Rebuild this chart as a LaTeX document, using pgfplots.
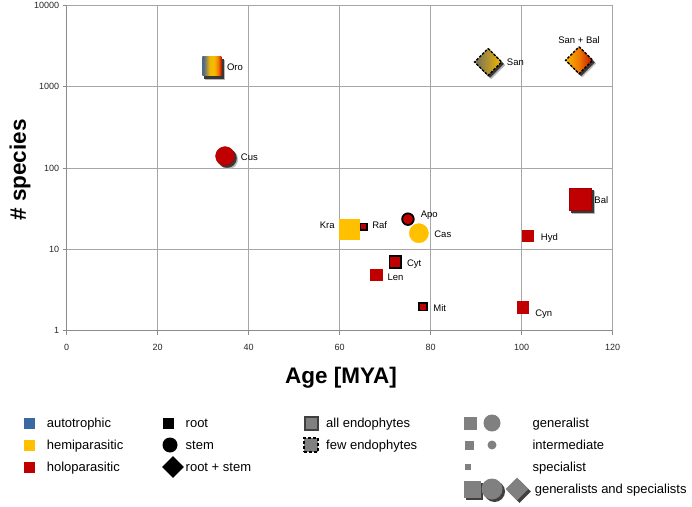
\documentclass[border=0pt]{standalone}
\usepackage{fontspec}
\setmainfont{Liberation Sans}
\usepackage{pgfplots}
\pgfplotsset{compat=1.18}
\usetikzlibrary{shapes.geometric}

\definecolor{hred}{RGB}{192,0,0}
\definecolor{hyel}{RGB}{255,192,0}
\definecolor{hblue}{RGB}{58,104,160}
\definecolor{lgray}{RGB}{128,128,128}
\definecolor{slate}{RGB}{78,104,140}
\definecolor{olivegray}{RGB}{110,110,95}
\definecolor{gold}{RGB}{245,185,0}
\definecolor{orng}{RGB}{240,120,0}
\definecolor{dred}{RGB}{190,20,0}

\pgfdeclarehorizontalshading{oroshade}{100bp}{color(0bp)=(slate); color(28bp)=(slate); color(45bp)=(gold); color(57bp)=(gold); color(67bp)=(orng); color(75bp)=(dred); color(100bp)=(dred)}
\pgfdeclarehorizontalshading{sanshade}{100bp}{color(0bp)=(olivegray); color(25bp)=(olivegray); color(75bp)=(gold); color(100bp)=(gold)}
\pgfdeclarehorizontalshading{sbshade}{100bp}{color(0bp)=(gold); color(25bp)=(gold); color(50bp)=(orng); color(75bp)=(dred); color(100bp)=(dred)}

\pgfdeclareplotmark{orosq}{%
  \pgfpathrectangle{\pgfqpoint{-\pgfplotmarksize}{-\pgfplotmarksize}}{\pgfqpoint{2\pgfplotmarksize}{2\pgfplotmarksize}}%
  \pgfshadepath{oroshade}{0}%
  \pgfusepath{}%
}
\newcommand{\diapath}{%
  \pgfpathmoveto{\pgfqpoint{0pt}{\pgfplotmarksize}}%
  \pgfpathlineto{\pgfqpoint{\pgfplotmarksize}{0pt}}%
  \pgfpathlineto{\pgfqpoint{0pt}{-\pgfplotmarksize}}%
  \pgfpathlineto{\pgfqpoint{-\pgfplotmarksize}{0pt}}%
  \pgfpathclose}
\pgfdeclareplotmark{rdia*}{\diapath\pgfusepathqfillstroke}
\pgfdeclareplotmark{sandia}{\diapath\pgfshadepath{sanshade}{0}\pgfusepath{}\diapath\pgfusepath{stroke}}
\pgfdeclareplotmark{sbdia}{\diapath\pgfshadepath{sbshade}{0}\pgfusepath{}\diapath\pgfusepath{stroke}}

\pgfplotsset{
  shA/.style={only marks, mark options={draw=black!28, fill=black!28, line width=0.5pt, xshift=3.2pt, yshift=-3.2pt}},
  shB/.style={only marks, mark options={draw=black!78, fill=black!78, line width=0.3pt, xshift=2pt, yshift=-2pt}},
}
\newcommand{\shadowpt}[3]{%
  \addplot[shA, mark=#1, mark size=#2] coordinates {#3};
  \addplot[shB, mark=#1, mark size=#2] coordinates {#3};
}
\newcommand{\labfont}{\fontsize{9.5}{11}\selectfont}
\newcommand{\legfont}{\fontsize{13}{15}\selectfont}
\tikzset{
  lab/.style={inner sep=0pt, font=\labfont, text height=6.9pt, text depth=0pt, anchor=west},
  leg/.style={inner sep=0pt, font=\legfont, text height=9.4pt, text depth=0pt, anchor=west},
  sq/.style={rectangle, inner sep=0pt, draw=none},
  ci/.style={circle, inner sep=0pt, draw=none},
  di/.style={diamond, aspect=1, inner sep=0pt, draw=none},
}

\begin{document}
\begin{tikzpicture}
\useasboundingbox (0pt,0pt) rectangle (692pt,506pt);
\begin{axis}[
  at={(66.7pt,175.3pt)}, anchor=south west, scale only axis,
  width=546pt, height=325.4pt,
  xmin=0, xmax=120, ymin=1, ymax=10000, ymode=log,
  xtick={0,20,...,120}, ytick={1,10,100,1000,10000},
  yticklabels={1,10,100,1000,10000},
  yminorticks=false,
  axis x line*=bottom, axis y line*=left,
  axis line style={draw=black!45, line width=0.7pt},
  grid=major, major grid style={draw=black!35, line width=0.7pt},
  tick align=outside, major tick length=4pt,
  tick style={black!45, line width=0.6pt},
  ticklabel style={font=\fontsize{9}{10}\selectfont, text=black!85},
  xticklabel style={yshift=-6pt},
  /pgf/number format/assume math mode=true,
  clip=false,
]
% shadows
\shadowpt{square*}{9.5}{(31.9,1780)}
\shadowpt{*}{9.5}{(34.8,140)}
\shadowpt{rdia*}{13.5}{(92.6,2010)}
\shadowpt{rdia*}{13.5}{(112.6,2110)}
\shadowpt{square*}{11}{(112.8,41.4)}
% Oro
\addplot[only marks, mark=orosq, mark size=9.5] coordinates {(31.9,1780)};
% Cus
\addplot[only marks, mark=*, mark size=9.5, mark options={fill=hred, draw=hred!85!black, line width=0.4pt}] coordinates {(34.8,140)};
% San, San + Bal
\addplot[only marks, mark=sandia, mark size=13.5, mark options={draw=black, line width=1.4pt, dash pattern=on 2.5pt off 1.5pt}] coordinates {(92.6,2010)};
\addplot[only marks, mark=sbdia, mark size=13.5, mark options={draw=black, line width=1.4pt, dash pattern=on 2.5pt off 1.5pt}] coordinates {(112.6,2110)};
% Bal
\addplot[only marks, mark=square*, mark size=11, mark options={fill=hred, draw=hred!85!black, line width=0.4pt}] coordinates {(112.8,41.4)};
% Kra, Cas
\addplot[only marks, mark=square*, mark size=10, mark options={fill=hyel, draw=hyel}] coordinates {(62.0,17.7)};
\addplot[only marks, mark=*, mark size=9.6, mark options={fill=hyel, draw=hyel}] coordinates {(77.4,15.8)};
% Hyd, Len, Cyn
\addplot[only marks, mark=square*, mark size=5.6, mark options={fill=hred, draw=hred, line width=0.4pt}] coordinates {(101.4,14.6) (68.0,4.86) (100.3,1.94)};
% Raf, Mit, Cyt
\addplot[only marks, mark=square*, mark size=3.4, mark options={fill=hred, draw=black, line width=1.6pt}] coordinates {(65.3,18.9)};
\addplot[only marks, mark=square*, mark size=3.8, mark options={fill=hred, draw=black, line width=1.6pt}] coordinates {(78.3,1.97)};
\addplot[only marks, mark=square*, mark size=5.8, mark options={fill=hred, draw=black, line width=1.8pt}] coordinates {(72.2,6.97)};
% Apo
\addplot[only marks, mark=*, mark size=5.8, mark options={fill=hred, draw=black, line width=1.8pt}] coordinates {(75.0,23.5)};
% labels
\node[lab, xshift=15pt, yshift=-0.7pt] at (axis cs:31.9,1780) {Oro};
\node[lab, xshift=15.7pt, yshift=-0.7pt] at (axis cs:34.8,140) {Cus};
\node[lab, xshift=18.7pt] at (axis cs:92.6,2010) {San};
\node[lab, anchor=center, yshift=20pt] at (axis cs:112.6,2110) {San + Bal};
\node[lab, anchor=east, xshift=-14pt, yshift=4pt] at (axis cs:62.0,17.7) {Kra};
\node[lab, xshift=8.3pt, yshift=1.7pt] at (axis cs:65.3,18.9) {Raf};
\node[lab, xshift=12.7pt, yshift=4.7pt] at (axis cs:75.0,23.5) {Apo};
\node[lab, xshift=15.3pt, yshift=-1.3pt] at (axis cs:77.4,15.8) {Cas};
\node[lab, xshift=12.7pt, yshift=-1pt] at (axis cs:101.4,14.6) {Hyd};
\node[lab, xshift=11.7pt, yshift=-1.3pt] at (axis cs:72.2,6.97) {Cyt};
\node[lab, xshift=11.3pt, yshift=-2pt] at (axis cs:68.0,4.86) {Len};
\node[lab, xshift=10.3pt, yshift=-1pt] at (axis cs:78.3,1.97) {Mit};
\node[lab, xshift=12pt, yshift=-5.7pt] at (axis cs:100.3,1.94) {Cyn};
\node[lab, xshift=14.3pt, yshift=-1pt] at (axis cs:112.8,41.4) {Bal};
\end{axis}

\begin{scope}[x=1pt, y=-1pt, shift={(0pt,506pt)}]
\node[font=\fontsize{22.5}{26}\bfseries, rotate=90] at (20,170) {\# species};
\node[font=\fontsize{22.5}{26}\bfseries] at (341,378) {Age [MYA]};
% legend column 1
\node[sq, fill=hblue, minimum size=11pt] at (29,423) {};
\node[sq, fill=hyel, minimum size=11pt] at (29,445) {};
\node[sq, fill=hred, minimum size=11pt] at (29,467) {};
\node[leg] at (46.6,423) {autotrophic};
\node[leg] at (46.6,445) {hemiparasitic};
\node[leg] at (46.6,467) {holoparasitic};
% column 2
\node[sq, fill=black, minimum size=11pt] at (168,423) {};
\node[ci, fill=black, minimum size=15pt] at (170,445) {};
\node[di, fill=black, minimum size=22pt] at (173,467) {};
\node[leg] at (185.5,423) {root};
\node[leg] at (185.5,445) {stem};
\node[leg] at (185.5,467) {root + stem};
% column 3
\node[sq, fill=lgray, draw=black!75, line width=2pt, minimum size=13pt] at (311,423) {};
\node[sq, fill=lgray, draw=black, line width=1.6pt, dash pattern=on 3pt off 2pt, minimum size=14pt] at (311,445) {};
\node[leg] at (326,423) {all endophytes};
\node[leg] at (326,445) {few endophytes};
% column 4
\node[sq, fill=lgray, minimum size=13pt] at (470,423) {};
\node[ci, fill=lgray, minimum size=17pt] at (492,423) {};
\node[sq, fill=lgray, minimum size=9pt] at (469.5,445) {};
\node[ci, fill=lgray, minimum size=9pt] at (492,445) {};
\node[sq, fill=lgray, minimum size=6pt] at (468,467) {};
\node[sq, fill=black!75, minimum size=17pt] at (474.5,491.5) {};
\node[ci, fill=black!75, minimum size=21pt] at (494.5,491.5) {};
\node[di, fill=black!75, minimum size=23pt] at (519.5,491.5) {};
\node[sq, fill=lgray, minimum size=17pt] at (472,489) {};
\node[ci, fill=lgray, minimum size=21pt] at (492,489) {};
\node[di, fill=lgray, minimum size=23pt] at (517,489) {};
\node[leg] at (532.4,423) {generalist};
\node[leg] at (532.4,445) {intermediate};
\node[leg] at (532.4,467) {specialist};
\node[leg] at (534.6,489) {generalists and specialists};
\end{scope}
\end{tikzpicture}
\end{document}
